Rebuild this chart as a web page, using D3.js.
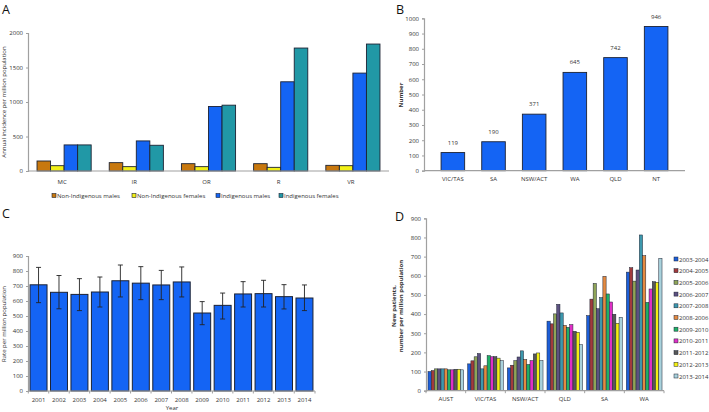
<!DOCTYPE html>
<html>
<head>
<meta charset="utf-8">
<script src="https://cdn.jsdelivr.net/npm/d3@7"></script>
<style>
  body { margin: 0; background: #fff; }
  text { font-family: "Open Sans", "Liberation Sans", sans-serif; fill: #333; }
</style>
</head>
<body>
<svg id="fig" width="709" height="412"></svg>
<script>
// ---- data ----
const regionsA = ['MC', 'IR', 'OR', 'R', 'VR'];
const groupsA = ['Non-Indigenous males', 'Non-Indigenous females', 'Indigenous males', 'Indigenous females'];
const nonIndMales = [145, 121, 106, 106, 82];
const nonIndFemales = [77, 63, 63, 53, 77];
const indMales = [378, 436, 935, 1293, 1419];
const indFemales = [378, 373, 954, 1782, 1840];
const colorsA = ['#c8780e', '#f2f016', '#1464f4', '#2198a6'];

const statesB = ['VIC/TAS', 'SA', 'NSW/ACT', 'WA', 'QLD', 'NT'];
const countsB = [119, 190, 371, 645, 742, 946];

const yearsC = ['2001','2002','2003','2004','2005','2006','2007','2008','2009','2010','2011','2012','2013','2014'];
const rateC = [708, 658, 644, 660, 735, 719, 707, 727, 520, 571, 647, 649, 629, 620];
const upperC = [824, 770, 749, 760, 840, 829, 804, 827, 596, 653, 729, 738, 709, 707];
const lowerC = [589, 548, 536, 560, 627, 609, 609, 627, 442, 480, 560, 560, 547, 536];

const statesD = ['AUST', 'VIC/TAS', 'NSW/ACT', 'QLD', 'SA', 'WA'];
const periodsD = ['2003-2004','2004-2005','2005-2006','2006-2007','2007-2008','2008-2006','2009-2010','2010-2011','2011-2012','2012-2013','2013-2014'];
// one array per state, in period order
const austD = [100, 105, 114, 114, 114, 114, 109, 109, 112, 112, 109];
const vicD = [140, 156, 177, 194, 114, 130, 183, 177, 178, 170, 157];
const nswD = [119, 133, 157, 176, 208, 163, 137, 157, 192, 197, 157];
const qldD = [363, 349, 401, 451, 406, 341, 331, 345, 310, 305, 240];
const saD = [392, 478, 560, 428, 486, 597, 505, 463, 399, 352, 383];
const waD = [619, 642, 572, 630, 813, 705, 461, 531, 569, 566, 691];
const colorsD = ['#1d5fd8', '#a23a3c', '#8fa457', '#5c5180', '#3d98ad', '#e38a41', '#1fb066', '#e02fc6', '#575757', '#f3ef12', '#a9d2dc'];

const svg = d3.select('#fig');
const axisGrey = '#a0a0a0';
const barStroke = '#1c2233';

function panelLetter(t, x, y) {
  svg.append('text').attr('x', x).attr('y', y).attr('font-size', 12.5)
    .style('fill', '#111').text(t);
}

function yAxis(y, x0, ticks) {
  const g = svg.append('g').attr('transform', `translate(${x0},0)`)
    .call(d3.axisLeft(y).tickValues(ticks).tickFormat(d3.format('d')).tickSize(2).tickPadding(3));
  g.select('.domain').attr('stroke', axisGrey).attr('stroke-width', 1.2);
  g.selectAll('.tick line').attr('stroke', axisGrey);
  g.selectAll('text').attr('font-size', 6).attr('font-family', null);
  return g;
}

function xBaseline(x0, x1, yb) {
  svg.append('line').attr('x1', x0).attr('x2', x1).attr('y1', yb).attr('y2', yb)
    .attr('stroke', axisGrey).attr('stroke-width', 1.2);
}

function boundaryTicks(x, yb) {
  const st = x.step();
  const starts = x.domain().map(d => x(d) - (st - x.bandwidth()) / 2);
  starts.push(x.range()[1]);
  svg.append('g').selectAll('line').data(starts).join('line')
    .attr('x1', d => d).attr('x2', d => d).attr('y1', yb).attr('y2', yb + 2.5)
    .attr('stroke', axisGrey);
}

function yTitle(lines, x, yc, bold) {
  const t = svg.append('text').attr('transform', `translate(${x},${yc}) rotate(-90)`)
    .attr('text-anchor', 'middle').attr('font-size', 6)
    .attr('font-weight', bold ? 'bold' : null);
  lines.forEach((l, i) => t.append('tspan').attr('x', 0).attr('dy', i === 0 ? 0 : 7).text(l));
}

// ---------- Panel A ----------
{
  panelLetter('A', 2, 14);
  const x = d3.scaleBand().domain(regionsA).range([28, 389]).paddingInner(0.25).paddingOuter(0.125);
  const xi = d3.scaleBand().domain(groupsA).range([0, x.bandwidth()]);
  const y = d3.scaleLinear().domain([0, 2000]).range([171, 33]);
  const series = [nonIndMales, nonIndFemales, indMales, indFemales];
  const rows = [];
  regionsA.forEach((r, i) => groupsA.forEach((g, j) => rows.push({ r, g, j, v: series[j][i] })));
  svg.append('g').selectAll('rect').data(rows).join('rect')
    .attr('x', d => x(d.r) + xi(d.g)).attr('width', xi.bandwidth())
    .attr('y', d => y(d.v)).attr('height', d => y(0) - y(d.v))
    .attr('fill', d => colorsA[d.j]).attr('stroke', barStroke).attr('stroke-width', 0.9);
  yAxis(y, 28, d3.range(0, 2001, 500));
  xBaseline(28, 389, 171);
  svg.append('g').selectAll('text').data(regionsA).join('text')
    .attr('x', d => x(d) + x.bandwidth() / 2 - 2).attr('y', 184)
    .attr('text-anchor', 'middle').attr('font-size', 6).text(d => d);
  yTitle(['Annual incidence per million population'], 6, 102, false);
  const legX = [52, 132, 216, 279];
  const leg = svg.append('g').selectAll('g').data(groupsA).join('g')
    .attr('transform', (d, i) => `translate(${legX[i]},198)`);
  leg.append('rect').attr('x', 0).attr('y', -4.5).attr('width', 4).attr('height', 4)
    .attr('fill', (d, i) => colorsA[i]).attr('stroke', barStroke).attr('stroke-width', 0.6);
  leg.append('text').attr('x', 5).attr('y', 0).attr('font-size', 6).text(d => d);
}

// ---------- Panel B ----------
{
  panelLetter('B', 396, 14);
  const x = d3.scaleBand().domain(statesB).range([424, 685]).padding(0.42);
  const y = d3.scaleLinear().domain([0, 1000]).range([170.7, 18.3]);
  svg.append('g').selectAll('rect').data(statesB).join('rect')
    .attr('x', d => x(d)).attr('width', x.bandwidth())
    .attr('y', (d, i) => y(countsB[i])).attr('height', (d, i) => y(0) - y(countsB[i]))
    .attr('fill', '#1464f4').attr('stroke', barStroke).attr('stroke-width', 0.9);
  svg.append('g').selectAll('text').data(statesB).join('text')
    .attr('x', d => x(d) + x.bandwidth() / 2).attr('y', (d, i) => y(countsB[i]) - 8)
    .attr('text-anchor', 'middle').attr('font-size', 6).text((d, i) => countsB[i]);
  yAxis(y, 424, d3.range(0, 1001, 100));
  xBaseline(424, 685, 170.7);
  svg.append('g').selectAll('text.lab').data(statesB).join('text')
    .attr('x', d => x(d) + x.bandwidth() / 2).attr('y', 181)
    .attr('text-anchor', 'middle').attr('font-size', 6).text(d => d);
  yTitle(['Number'], 403, 95, true);
}

// ---------- Panel C ----------
{
  panelLetter('C', 2, 218);
  const x = d3.scaleBand().domain(yearsC).range([28, 315]).paddingInner(0.17).paddingOuter(0.1);
  const y = d3.scaleLinear().domain([0, 900]).range([391, 256]);
  svg.append('g').selectAll('rect').data(yearsC).join('rect')
    .attr('x', d => x(d)).attr('width', x.bandwidth())
    .attr('y', (d, i) => y(rateC[i])).attr('height', (d, i) => y(0) - y(rateC[i]))
    .attr('fill', '#1464f4').attr('stroke', barStroke).attr('stroke-width', 1);
  const eb = svg.append('g').attr('stroke', '#222').attr('stroke-width', 0.9);
  yearsC.forEach((d, i) => {
    const cx = x(d) + x.bandwidth() / 2;
    eb.append('line').attr('x1', cx).attr('x2', cx).attr('y1', y(upperC[i])).attr('y2', y(lowerC[i]));
    eb.append('line').attr('x1', cx - 2.5).attr('x2', cx + 2.5).attr('y1', y(upperC[i])).attr('y2', y(upperC[i]));
    eb.append('line').attr('x1', cx - 2.5).attr('x2', cx + 2.5).attr('y1', y(lowerC[i])).attr('y2', y(lowerC[i]));
  });
  yAxis(y, 28, d3.range(0, 901, 100));
  xBaseline(28, 315, 391);
  boundaryTicks(x, 391);
  svg.append('g').selectAll('text').data(yearsC).join('text')
    .attr('x', d => x(d) + x.bandwidth() / 2).attr('y', 402)
    .attr('text-anchor', 'middle').attr('font-size', 6).text(d => d);
  svg.append('text').attr('x', 172).attr('y', 410).attr('text-anchor', 'middle')
    .attr('font-size', 6).text('Year');
  yTitle(['Rate per million population'], 6, 324, false);
}

// ---------- Panel D ----------
{
  panelLetter('D', 395, 221);
  const x = d3.scaleBand().domain(statesD).range([426, 664]).paddingInner(0.1).paddingOuter(0.05);
  const xi = d3.scaleBand().domain(periodsD).range([0, x.bandwidth()]);
  const y = d3.scaleLinear().domain([0, 900]).range([390.7, 218.3]);
  const byState = [austD, vicD, nswD, qldD, saD, waD];
  const rows = [];
  statesD.forEach((s, i) => periodsD.forEach((p, j) => rows.push({ s, p, j, v: byState[i][j] })));
  svg.append('g').selectAll('rect').data(rows).join('rect')
    .attr('x', d => x(d.s) + xi(d.p)).attr('width', xi.bandwidth())
    .attr('y', d => y(d.v)).attr('height', d => y(0) - y(d.v))
    .attr('fill', d => colorsD[d.j]).attr('stroke', barStroke).attr('stroke-width', 0.5);
  yAxis(y, 426, d3.range(0, 901, 100));
  xBaseline(426, 664, 390.7);
  boundaryTicks(x, 390.7);
  svg.append('g').selectAll('text').data(statesD).join('text')
    .attr('x', d => x(d) + x.bandwidth() / 2).attr('y', 401)
    .attr('text-anchor', 'middle').attr('font-size', 6).text(d => d);
  yTitle(['New patients,', 'number per million population'], 396, 306, true);
  const leg = svg.append('g').selectAll('g').data(periodsD).join('g')
    .attr('transform', (d, i) => `translate(674,${261.5 + i * 11.7})`);
  leg.append('rect').attr('x', 0).attr('y', -4.5).attr('width', 4).attr('height', 4)
    .attr('fill', (d, i) => colorsD[i]).attr('stroke', barStroke).attr('stroke-width', 0.5);
  leg.append('text').attr('x', 5).attr('y', 0).attr('font-size', 6).text(d => d);
}
</script>
</body>
</html>
